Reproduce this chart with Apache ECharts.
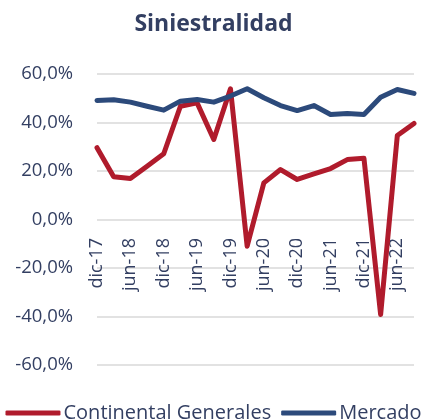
<!DOCTYPE html>
<html>
<head>
<meta charset="utf-8">
<script src="https://cdn.jsdelivr.net/npm/echarts@6/dist/echarts.min.js"></script>
<style>
  html, body { margin: 0; padding: 0; background: #fff; }
  #chart { width: 427px; height: 419px; }
</style>
</head>
<body>
<div id="chart"></div>
<script>
  // trimestres
  const categories = ['dic-17', 'mar-18', 'jun-18', 'sep-18', 'dic-18', 'mar-19', 'jun-19', 'sep-19',
    'dic-19', 'mar-20', 'jun-20', 'sep-20', 'dic-20', 'mar-21', 'jun-21', 'sep-21',
    'dic-21', 'mar-22', 'jun-22', 'sep-22']
  const continental = [29.6, 17.6, 16.9, 22.0, 27.1, 46.7, 48.1, 33.0, 53.9, -11.0,
    15.1, 20.6, 16.5, 18.8, 21.0, 24.7, 25.3, -39.2, 34.6, 39.6]
  const mercado = [49.1, 49.4, 48.4, 46.7, 45.1, 48.8, 49.5, 48.4, 50.9, 53.9,
    50.2, 47.0, 44.9, 47.0, 43.3, 43.7, 43.3, 50.4, 53.6, 52.0]

  const textColor = '#333F62'
  const font = 'Open Sans'

  const chart = echarts.init(document.getElementById('chart'))
  chart.setOption({
    animation: false,
    title: {
      text: 'Siniestralidad',
      left: 'center',
      top: 8,
      textStyle: { fontFamily: font, fontSize: 23, fontWeight: 'bold', color: textColor }
    },
    grid: { left: 97, right: 13, top: 74, bottom: 54, containLabel: false, outerBoundsMode: 'none' },
    legend: {
      top: 398,
      left: 'center',
      icon: 'roundRect',
      itemWidth: 55,
      itemHeight: 5,
      itemGap: 10,
      textStyle: { fontFamily: font, fontSize: 20, color: textColor, padding: [0, 0, 0, -2] }
    },
    xAxis: {
      type: 'category',
      data: categories,
      boundaryGap: false,
      // etiquetas junto a la línea del 0%
      offset: -145,
      axisLine: { show: false },
      axisTick: { show: false },
      axisLabel: {
        interval: 1,
        rotate: 90,
        margin: 18,
        fontFamily: font,
        fontSize: 18,
        color: textColor
      }
    },
    yAxis: {
      type: 'value',
      min: -60,
      max: 60,
      interval: 20,
      axisLabel: {
        margin: 24,
        fontFamily: font,
        fontSize: 18.5,
        color: textColor,
        formatter: v => v.toFixed(1).replace('.', ',') + '%'
      },
      splitLine: { lineStyle: { color: '#D9D9D9', width: 1.5 } }
    },
    series: [{
      name: 'Continental Generales',
      type: 'line',
      data: continental,
      symbol: 'none',
      color: '#B01B2C',
      lineStyle: { width: 5, cap: 'round', join: 'round' }
    }, {
      name: 'Mercado',
      type: 'line',
      data: mercado,
      symbol: 'none',
      color: '#2C4A7B',
      lineStyle: { width: 5, cap: 'round', join: 'round' }
    }]
  })
</script>
</body>
</html>
